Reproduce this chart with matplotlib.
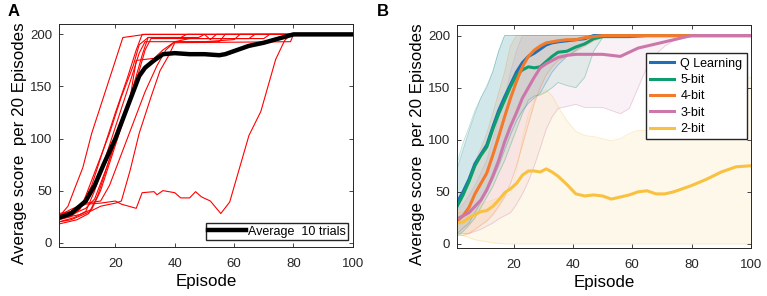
import matplotlib
matplotlib.use("Agg")
import matplotlib.pyplot as plt

plt.rcParams['font.family'] = ['Liberation Sans', 'DejaVu Sans']

# ---------------- Panel A: 10 individual trials + average ----------------
trial_episodes = [
    [1, 4, 6, 9, 12, 16, 20, 22.5, 25, 30, 100],
    [1, 5, 10, 15, 20, 22, 25, 28, 32, 35, 38, 40, 79, 80, 100],
    [1, 5, 8, 10, 14, 18, 22, 26, 28, 31, 42, 44, 100],
    [1, 5, 9, 12, 16, 20, 24, 27, 29, 100],
    [1, 6, 10, 13, 17, 21, 25, 28, 30, 55, 57, 100],
    [1, 7, 11, 14, 18, 22, 26, 29, 31, 48, 50, 52, 54, 100],
    [1, 8, 12, 15, 19, 23, 27, 30, 32, 65, 67, 100],
    [1, 6, 10, 13, 17, 21, 25, 27, 33, 36, 40, 50, 60, 62, 100],
    [1, 5, 10, 15, 18, 22, 26, 30, 34, 37, 40, 45, 70, 72, 100],
    [1, 5, 10, 15, 20, 22, 27, 29, 33, 34, 36, 40, 42, 45, 47, 49, 52,
     55.5, 58.5, 65, 69, 74, 77, 79, 100],
]
trial_scores = [
    [25, 35, 50, 72, 105, 140, 175, 197, 198, 200, 200],
    [20, 22, 28, 35, 38, 40, 70, 105, 140, 165, 180, 192, 193, 200, 200],
    [22, 25, 32, 45, 75, 105, 140, 170, 190, 197, 197, 200, 200],
    [28, 30, 38, 55, 90, 125, 158, 185, 200, 200],
    [20, 24, 30, 50, 85, 120, 155, 182, 193, 193, 200, 200],
    [18, 22, 28, 45, 80, 115, 150, 180, 197, 197, 200, 195, 200, 200],
    [23, 27, 32, 50, 85, 120, 155, 185, 196, 196, 200, 200],
    [24, 28, 33, 42, 72, 105, 140, 175, 177, 185, 193, 193, 195, 200, 200],
    [26, 32, 38, 40, 55, 85, 115, 145, 170, 185, 193, 196, 196, 200, 200],
    [25, 30, 37, 38, 40, 37, 33, 48, 49, 46, 50, 48, 43, 43, 49, 44, 40,
     28, 39, 103, 126, 176, 194, 200, 200],
]
avg_episodes = [1, 5, 10, 13, 16, 20, 24, 28, 30, 33, 36, 40, 45, 50, 55,
                57, 60, 65, 70, 75, 80, 100]
avg_scores = [24, 28, 40, 55, 75, 100, 130, 160, 168, 175, 181, 182, 181,
              181, 180, 181, 184, 189, 192, 196, 200, 200]

# ---------------- Panel B: quantised agents ----------------
episodes_b = [1, 3, 5, 7, 9, 11, 13, 15, 17, 19, 21, 23, 25, 27, 29, 31, 33,
              35, 38, 41, 44, 47, 50, 53, 56, 59, 62, 65, 68, 71, 74, 77, 80,
              85, 90, 95, 100]
series_labels = ['Q Learning', '5-bit', '4-bit', '3-bit', '2-bit']
series_colors = ['#1f6fb8', '#0e9d6e', '#f27a2a', '#cc77aa', '#f8c140']

q_mean = [40, 50, 62, 77, 86, 95, 112, 128, 141, 153, 165, 174, 180, 183,
          187, 191, 193, 194, 195, 196, 197, 200, 200, 200, 200, 200, 200,
          200, 200, 200, 200, 200, 200, 200, 200, 200, 200]
bit5_mean = [36, 47, 60, 75, 85, 93, 110, 125, 138, 151, 162, 167, 170, 169,
             170, 175, 180, 184, 185, 189, 192, 197, 199, 199, 199, 199, 199.5,
             200, 200, 200, 200, 200, 200, 200, 200, 200, 200]
bit4_mean = [22, 27, 35, 48, 58, 68, 85, 103, 122, 140, 156, 170, 180, 186,
             190, 193, 194, 195, 196, 196, 198, 199, 200, 200, 200, 200, 200,
             200, 200, 200, 200, 200, 200, 200, 200, 200, 200]
bit3_mean = [24, 27, 30, 36, 42, 52, 65, 80, 98, 113, 126, 140, 150, 160,
             169, 173, 176, 179, 181, 182, 182, 182, 182, 181, 180, 184, 188,
             190, 192, 194, 196, 198, 200, 200, 200, 200, 200]
bit2_mean = [20, 21, 25, 28, 31, 32, 36, 42, 49, 53, 58, 66, 70, 70, 69, 72,
             69, 65, 57, 48, 46, 47, 46, 43, 45, 47, 50, 51, 48, 48, 50, 53,
             56, 62, 69, 74, 75]

q_upper = [72, 90, 108, 125, 140, 150, 165, 185, 200, 200, 200, 200, 200,
           200, 200, 200, 200, 200, 200, 200, 200, 200, 200, 200, 200, 200,
           200, 200, 200, 200, 200, 200, 200, 200, 200, 200, 200]
q_lower = [10, 15, 20, 30, 40, 50, 62, 75, 90, 105, 118, 128, 135, 140, 145,
           155, 165, 172, 180, 186, 192, 198, 200, 200, 200, 200, 200, 200,
           200, 200, 200, 200, 200, 200, 200, 200, 200]
bit5_upper = [78, 97, 112, 128, 140, 152, 165, 185, 200, 200, 200, 200, 200,
              200, 200, 200, 200, 200, 200, 200, 200, 200, 200, 200, 200, 200,
              200, 200, 200, 200, 200, 200, 200, 200, 200, 200, 200]
bit5_lower = [8, 12, 18, 25, 35, 45, 55, 68, 80, 95, 110, 125, 138, 142, 143,
              146, 150, 155, 152, 150, 160, 185, 198, 200, 200, 200, 200, 200,
              200, 200, 200, 200, 200, 200, 200, 200, 200]
bit4_upper = [38, 48, 62, 78, 92, 106, 125, 145, 165, 190, 200, 200, 200, 200,
              200, 200, 200, 200, 200, 200, 200, 200, 200, 200, 200, 200, 200,
              200, 200, 200, 200, 200, 200, 200, 200, 200, 200]
bit4_lower = [8, 8, 10, 14, 18, 22, 28, 36, 45, 58, 75, 95, 115, 135, 150,
              162, 170, 176, 180, 185, 190, 195, 198, 200, 200, 200, 200, 200,
              200, 200, 200, 200, 200, 200, 200, 200, 200]
bit3_upper = [32, 38, 46, 56, 68, 80, 100, 120, 140, 165, 185, 200, 200, 200,
              200, 200, 200, 200, 200, 200, 200, 200, 200, 200, 200, 200, 200,
              200, 200, 200, 200, 200, 200, 200, 200, 200, 200]
bit3_lower = [10, 10, 10, 12, 14, 17, 20, 24, 27, 30, 38, 48, 60, 75, 92,
              110, 122, 130, 132, 134, 131, 131, 131, 128, 125, 130, 150, 170,
              182, 190, 195, 198, 200, 200, 200, 200, 200]
bit2_upper = [30, 30, 32, 35, 38, 40, 42, 44, 46, 48, 70, 100, 125, 138, 145,
              148, 142, 132, 118, 108, 104, 103, 101, 99, 101, 106, 109, 109,
              107, 110, 115, 122, 130, 140, 155, 160, 160]
bit2_lower = [10, 8, 6, 4, 3, 2, 1, 0.5, 0, 0, 0, 0, 0, 0, 0, 0, 0, 0, 0, 0,
              0, 0, 0, 0, 0, 0, 0, 0, 0, 0, 0, 0, 0, 0, 0, 0, 0]

TICK_FS = 9.5
LABEL_FS = 12.2
LEGEND_FS = 9
AXIS_COLOR = '#262626'


def style_axes(ax):
    """Matlab-like axes: inward ticks on all four sides."""
    ax.set_xlim(1, 100)
    ax.set_ylim(-4, 210)
    ax.set_xticks([20, 40, 60, 80, 100])
    ax.set_yticks([0, 50, 100, 150, 200])
    ax.tick_params(direction='in', top=True, right=True, length=3,
                   width=0.6, labelsize=TICK_FS, colors=AXIS_COLOR)
    ax.tick_params(axis='x', pad=8)
    ax.tick_params(axis='y', pad=5)
    for sp in ax.spines.values():
        sp.set_linewidth(0.7)
        sp.set_color(AXIS_COLOR)
    ax.set_xlabel('Episode', fontsize=LABEL_FS, labelpad=3)
    ax.set_ylabel('Average score  per 20 Episodes', fontsize=LABEL_FS)
    ax.yaxis.set_label_coords(-0.11, 0.465)


def plot_trials(ax):
    for ep, sc in zip(trial_episodes, trial_scores):
        ax.plot(ep, sc, color='red', lw=0.8)
    ax.plot(avg_episodes, avg_scores, color='black', lw=3.2,
            label='Average  10 trials')
    style_axes(ax)
    ax.legend(loc='lower right', bbox_to_anchor=(0.985, 0.03),
              fontsize=LEGEND_FS, fancybox=False, edgecolor=AXIS_COLOR,
              framealpha=1, handlelength=3.0, handletextpad=0.2,
              borderpad=0.2, borderaxespad=0)
    return ax


def plot_quantized(ax):
    means = [q_mean, bit5_mean, bit4_mean, bit3_mean, bit2_mean]
    uppers = [q_upper, bit5_upper, bit4_upper, bit3_upper, bit2_upper]
    lowers = [q_lower, bit5_lower, bit4_lower, bit3_lower, bit2_lower]
    for up, lo, c in zip(uppers, lowers, series_colors):
        ax.fill_between(episodes_b, lo, up, color=c, alpha=0.1, lw=0)
        ax.plot(episodes_b, up, color=c, alpha=0.3, lw=0.6)
        ax.plot(episodes_b, lo, color=c, alpha=0.3, lw=0.6)
    for m, c, lab in zip(means, series_colors, series_labels):
        ax.plot(episodes_b, m, color=c, lw=2.2, label=lab)
    style_axes(ax)
    ax.legend(loc='upper right', bbox_to_anchor=(0.986, 0.874),
              fontsize=LEGEND_FS, fancybox=False, edgecolor=AXIS_COLOR,
              framealpha=1, handlelength=1.9, handletextpad=0.5,
              labelspacing=0.35, borderpad=0.35, borderaxespad=0)
    return ax


fig = plt.figure(figsize=(7.67, 2.96), dpi=100)
ax_a = fig.add_axes([0.077, 0.166, 0.383, 0.753])
ax_b = fig.add_axes([0.596, 0.162, 0.383, 0.753])
plot_trials(ax_a)
plot_quantized(ax_b)
fig.text(0.01, 0.985, 'A', fontsize=12, fontweight='bold', va='top')
fig.text(0.492, 0.985, 'B', fontsize=12, fontweight='bold', va='top')
fig.savefig('out.png', dpi=100)
